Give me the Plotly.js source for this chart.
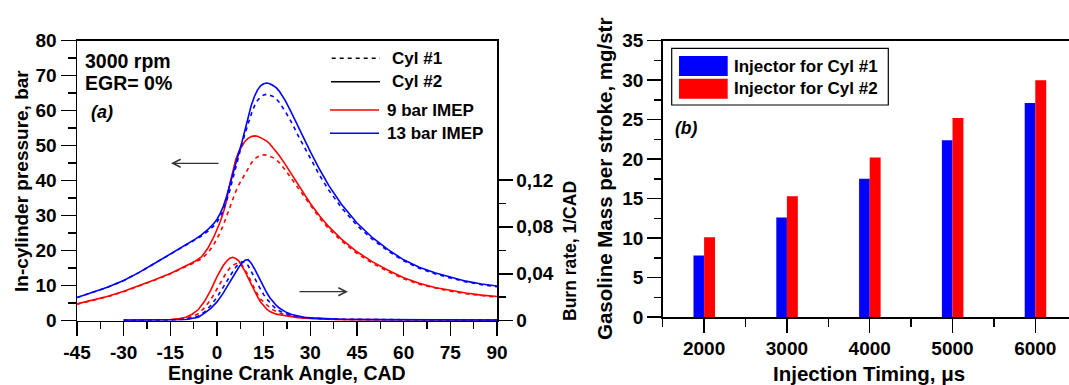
<!DOCTYPE html>
<html><head><meta charset="utf-8">
<script src="https://cdn.plot.ly/plotly-3.0.1.min.js"></script>
<style>html,body{margin:0;padding:0;overflow:hidden;background:#fff}#chart{width:1069px;height:385px}</style>
</head><body><div id="chart"></div>
<script>
// ---------- Panel (a): in-cylinder pressure ----------
const cadP = [-45,-40,-35,-30,-25,-20,-15,-10,-7,-5,-3,-1,0,1,2,3,4,5,6,7,8,9,10,11,12,13,14,15,16,17,18,19,20,22,24,26,28,30,33,36,40,45,50,55,60,65,70,75,80,85,90];
const p13Cyl2 = [6.6,8.0,9.6,11.5,13.8,16.4,19.0,21.7,23.3,24.5,26.0,27.8,29.0,30.6,32.6,35.3,38.3,41.2,44.6,47.9,51.0,54.6,58.2,61.5,64.0,65.9,67.1,67.7,67.9,67.7,67.2,66.6,65.6,62.8,59.3,55.6,51.8,48.3,43.2,38.5,33.3,27.9,23.7,20.3,17.4,15.3,13.7,12.4,11.3,10.5,9.9];
const p13Cyl1 = [6.6,8.0,9.6,11.5,13.8,16.4,19.0,21.6,23.1,24.2,25.5,27.1,28.2,29.6,31.4,33.8,36.8,40.3,43.8,47.2,50.4,53.4,56.3,59.0,61.3,62.9,63.9,64.5,64.7,64.5,64.1,63.4,62.4,59.7,56.6,53.0,49.6,46.3,41.5,37.2,32.3,27.2,23.2,19.9,17.1,15.0,13.4,12.2,11.1,10.3,9.7];
const p9Cyl2 = [4.8,5.8,7.0,8.4,10.0,11.7,13.5,15.6,17.0,18.2,20.6,24.0,26.0,28.2,30.8,34.0,38.6,42.8,46.0,48.3,50.0,51.3,52.1,52.6,52.8,52.7,52.3,51.8,51.3,50.5,49.5,48.4,47.2,44.6,41.8,39.0,36.2,33.5,29.9,26.8,23.3,19.7,16.8,14.4,12.3,10.7,9.5,8.6,7.9,7.3,6.9];
const p9Cyl1 = [4.7,5.7,6.9,8.3,9.9,11.6,13.4,15.4,16.7,17.7,19.3,21.8,23.4,25.2,27.2,29.6,32.2,34.8,36.9,38.8,40.4,42.0,43.6,45.0,46.1,46.8,47.2,47.4,47.3,47.0,46.6,46.0,45.2,43.0,40.5,37.9,35.3,32.9,29.3,26.2,22.8,19.2,16.4,14.0,12.0,10.4,9.3,8.4,7.7,7.1,6.7];

// ---------- Panel (a): burn rate ----------
const cadB = [-30,-25,-20,-15,-12,-10,-8,-6,-4,-2,0,1,2,3,4,5,6,7,8,9,10,11,12,13,14,15,16,17,18,19,20,22,24,26,28,30,35,40,50,60,70,80,90];
const br9Cyl2 = [.0005,.0005,.0006,.001,.0018,.003,.0055,.0095,.0165,.026,.0375,.0425,.047,.0505,.053,.054,.053,.051,.047,.042,.0365,.031,.0255,.0205,.016,.0125,.0098,.0078,.0064,.0056,.005,.0041,.0032,.0026,.0021,.0017,.0012,.0009,.0007,.0005,.0004,.0004,.0003];
const br9Cyl1 = [.0005,.0005,.0006,.0008,.0013,.002,.0035,.006,.011,.018,.027,.032,.037,.041,.0445,.047,.0485,.049,.0475,.0435,.039,.033,.0275,.0225,.0185,.0158,.0132,.011,.0092,.0078,.0067,.005,.0038,.003,.0024,.002,.0014,.0011,.0008,.0006,.0005,.0004,.0004];
const br13Cyl2 = [.0003,.0003,.0004,.0005,.0008,.001,.0018,.003,.0065,.0105,.016,.0195,.0235,.028,.0325,.037,.0415,.0455,.049,.0515,.052,.049,.0445,.039,.0335,.0285,.0238,.0196,.0162,.0132,.0108,.0075,.0052,.0038,.003,.0024,.0016,.0012,.0009,.0007,.0006,.0005,.0005];
const br13Cyl1 = [.0003,.0003,.0004,.0006,.001,.0013,.0023,.004,.0075,.013,.02,.0245,.029,.0335,.0375,.0415,.0455,.0485,.0502,.0498,.047,.0425,.037,.0315,.0265,.0222,.0185,.0152,.0125,.0102,.0085,.006,.0044,.0034,.0027,.0022,.0015,.0012,.0009,.0007,.0006,.0005,.0005];

const cadTickVals = [-45,-30,-15,0,15,30,45,60,75,90];
const cadTickText = ['-45','-30','-15','0','15','30','45','60','75','90'];
const burnTickVals = [0,0.04,0.08,0.12];
const burnTickText = ['0','0,04','0,08','0,12'];

// ---------- Panel (b): gasoline mass ----------
const injTiming = [2000,3000,4000,5000,6000];
const massCyl1 = [7.8,12.6,17.5,22.4,27.1];
const massCyl2 = [10.1,15.3,20.2,25.2,30.0];
const injTickVals = [2000,3000,4000,5000,6000];
const injTickText = ['2000','3000','4000','5000','6000'];

const W = 1069, H = 385;
const px = v => v / W;
const py = v => 1 - v / H;

const FAM = 'Liberation Sans, Arial, sans-serif';
const tickFont = {family: FAM, size: 19, color: '#000', weight: 'bold'};
const RED = '#ff0000', BLUE = '#0000ff';

const traces = [
  {x: cadP, y: p9Cyl1, xaxis:'x', yaxis:'y', mode:'lines', line:{color:RED, width:1.6, dash:'4px,4px'}, showlegend:false},
  {x: cadP, y: p9Cyl2, xaxis:'x', yaxis:'y', mode:'lines', line:{color:RED, width:1.6}, showlegend:false},
  {x: cadP, y: p13Cyl1, xaxis:'x', yaxis:'y', mode:'lines', line:{color:BLUE, width:1.6, dash:'4px,4px'}, showlegend:false},
  {x: cadP, y: p13Cyl2, xaxis:'x', yaxis:'y', mode:'lines', line:{color:BLUE, width:1.6}, showlegend:false},
  {x: cadB, y: br9Cyl1, xaxis:'x', yaxis:'y2', mode:'lines', line:{color:RED, width:1.6, dash:'4px,4px'}, showlegend:false},
  {x: cadB, y: br9Cyl2, xaxis:'x', yaxis:'y2', mode:'lines', line:{color:RED, width:1.6}, showlegend:false},
  {x: cadB, y: br13Cyl1, xaxis:'x', yaxis:'y2', mode:'lines', line:{color:BLUE, width:1.6, dash:'4px,4px'}, showlegend:false},
  {x: cadB, y: br13Cyl2, xaxis:'x', yaxis:'y2', mode:'lines', line:{color:BLUE, width:1.6}, showlegend:false},
  {type:'bar', x: injTiming, y: massCyl1, xaxis:'x2', yaxis:'y3', width:128, offset:-128, marker:{color:BLUE, line:{width:0}}, showlegend:false},
  {type:'bar', x: injTiming, y: massCyl2, xaxis:'x2', yaxis:'y3', width:132, offset:0, marker:{color:RED, line:{width:0}}, showlegend:false}
];

const axCommon = {showgrid:false, zeroline:false, showline:true, linecolor:'#000', linewidth:1.5,
  ticks:'outside', tickcolor:'#000', tickwidth:1.5, tickfont:tickFont, fixedrange:true};

const layout = {
  width: W, height: H,
  margin: {l:0, r:0, t:0, b:0, pad:0},
  paper_bgcolor:'#fff', plot_bgcolor:'rgba(0,0,0,0)',
  showlegend:false,
  xaxis: Object.assign({}, axCommon, {domain:[px(77), px(497)], range:[-45,90], anchor:'y', mirror:true,
    tickmode:'array', tickvals:cadTickVals, ticktext:cadTickText, ticklen:14,
    minor:{tickmode:'linear', tick0:-45, dtick:7.5, ticks:'outside', ticklen:7, tickwidth:1.5, tickcolor:'#000'}}),
  yaxis: Object.assign({}, axCommon, {domain:[1-320.7/H, 1-40.7/H], range:[0,80], anchor:'x',
    tickmode:'linear', tick0:0, dtick:10, ticklen:15,
    minor:{tickmode:'linear', tick0:0, dtick:5, ticks:'outside', ticklen:8, tickwidth:1.5, tickcolor:'#000'}}),
  yaxis2: Object.assign({}, axCommon, {overlaying:'y', side:'right', anchor:'x', range:[0,0.2386],
    tickmode:'array', tickvals:burnTickVals, ticktext:burnTickText, ticklen:14,
    minor:{tickmode:'array', tickvals:[0.02,0.06,0.10], ticks:'outside', ticklen:7, tickwidth:1.5, tickcolor:'#000'}}),
  xaxis2: Object.assign({}, axCommon, {domain:[px(662.7), 1], range:[1500, 6407], anchor:'y3', mirror:true,
    tickmode:'array', tickvals:injTickVals, ticktext:injTickText, ticklen:14,
    minor:{tickmode:'array', tickvals:[1500,2500,3500,4500,5500], ticks:'outside', ticklen:8, tickwidth:1.5, tickcolor:'#000'}}),
  yaxis3: Object.assign({}, axCommon, {domain:[1-317/H, 1-40.7/H], range:[0,35], anchor:'x2',
    tickmode:'linear', tick0:0, dtick:5, ticklen:14,
    minor:{tickmode:'linear', tick0:0, dtick:2.5, ticks:'outside', ticklen:7, tickwidth:1.5, tickcolor:'#000'}}),
  shapes: [],
  annotations: []
};

function txt(text, x, y, size, opts) {
  return Object.assign({text:'<b>' + text + '</b>', xref:'paper', yref:'paper', x:px(x), y:py(y), showarrow:false,
    xanchor:'left', yanchor:'middle', borderpad:0,
    font:{family:FAM, size:size, color:'#000', weight:'bold'}}, opts || {});
}
function hline(x0, x1, y, color, dash) {
  return {type:'line', xref:'paper', yref:'paper', x0:px(x0), x1:px(x1), y0:py(y), y1:py(y),
    line:{color:color, width:1.6, dash:dash || 'solid'}};
}

// Panel (a) texts
layout.annotations.push(txt('3000 rpm', 83.5, 61, 19.5));
layout.annotations.push(txt('EGR= 0%', 83.5, 82.7, 19.5));
layout.annotations.push(txt('<i>(a)</i>', 89.5, 111.7, 18));
// Panel (a) legend
layout.shapes.push(hline(331.7, 380, 58.3, '#000', '4px,4px'));
layout.shapes.push(hline(331, 380, 81.7, '#000'));
layout.shapes.push(hline(330, 379, 110, RED));
layout.shapes.push(hline(330, 379, 133.3, BLUE));
layout.annotations.push(txt('Cyl #1', 391, 58.3, 17));
layout.annotations.push(txt('Cyl #2', 391, 81.7, 17));
layout.annotations.push(txt('9 bar IMEP', 385.5, 110, 17));
layout.annotations.push(txt('13 bar IMEP', 385.5, 133.3, 17));
// Arrows
layout.annotations.push({xref:'paper', yref:'paper', x:px(171), y:py(163.3), ax:49, ay:0, text:'', showarrow:true,
  arrowhead:5, arrowsize:1.3, arrowwidth:1.2, arrowcolor:'#333'});
layout.annotations.push({xref:'paper', yref:'paper', x:px(348), y:py(291.7), ax:-50, ay:0, text:'', showarrow:true,
  arrowhead:5, arrowsize:1.3, arrowwidth:1.2, arrowcolor:'#333'});
// Axis titles (a)
layout.annotations.push(txt('In-cylinder pressure, bar', 21, 181, 19, {xanchor:'center', textangle:-90}));
layout.annotations.push(txt('Engine Crank Angle, CAD', 287, 373, 19.5, {xanchor:'center'}));
layout.annotations.push(txt('Burn rate, 1/CAD', 570, 251, 17.5, {xanchor:'center', textangle:-90}));

// Panel (b) texts
layout.annotations.push(txt('Gasoline Mass per stroke, mg/str', 604, 179, 20.5, {xanchor:'center', textangle:-90}));
layout.annotations.push(txt('Injection Timing, \u03bcs', 868.5, 373, 20.5, {xanchor:'center'}));
layout.annotations.push(txt('<i>(b)</i>', 674, 128.3, 17.5));
// Panel (b) legend
layout.shapes.push({type:'rect', xref:'paper', yref:'paper', x0:px(671.7), x1:px(888.3), y0:py(48.3), y1:py(105),
  line:{color:'#000', width:1.2}, fillcolor:'#fff'});
layout.shapes.push({type:'rect', xref:'paper', yref:'paper', x0:px(679), x1:px(727.7), y0:py(56), y1:py(76),
  line:{width:0}, fillcolor:BLUE});
layout.shapes.push({type:'rect', xref:'paper', yref:'paper', x0:px(679), x1:px(727.7), y0:py(78.7), y1:py(98.7),
  line:{width:0}, fillcolor:RED});
layout.annotations.push(txt('Injector for Cyl #1', 733, 66, 17));
layout.annotations.push(txt('Injector for Cyl #2', 733, 89, 17));

Plotly.newPlot('chart', traces, layout, {displayModeBar:false, staticPlot:true, responsive:false});
</script></body></html>
